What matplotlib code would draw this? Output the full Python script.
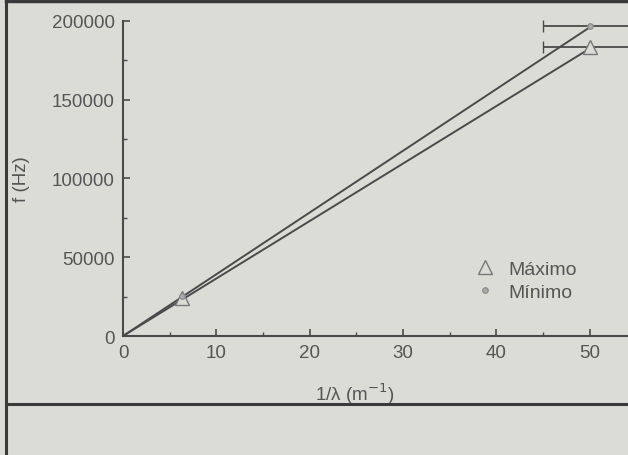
import matplotlib.pyplot as plt
import numpy as np
from matplotlib.lines import Line2D

plt.rcParams['font.family'] = ['Liberation Sans', 'DejaVu Sans']

# data
x_pts = [6.3, 50]
y_max = [24000, 183500]
y_min = [25500, 196800]
xerr_top = 5.0
x_line = np.array([0, 50])

ink = '#4a4a4a'
txt = '#555555'
bg = '#dcdcd7'

fig = plt.figure(figsize=(6.28, 4.56), dpi=100)
fig.patch.set_facecolor(bg)
ax = fig.add_axes([123 / 628, 1 - 337 / 456, 1 - 123 / 628, (337 - 22) / 456])
ax.set_facecolor(bg)

# fitted lines through origin
s_max = np.polyfit(x_pts, y_max, 1)[0]
s_min = np.polyfit(x_pts, y_min, 1)[0]
ax.plot(x_line, s_max * x_line, color=ink, lw=1.4)
ax.plot(x_line, s_min * x_line, color=ink, lw=1.4)

ax.errorbar([x_pts[1]], [y_max[1]], xerr=xerr_top, fmt='none', ecolor=ink,
            elinewidth=1.3, capsize=4, clip_on=False)
ax.errorbar([x_pts[1]], [y_min[1]], xerr=xerr_top, fmt='none', ecolor=ink,
            elinewidth=1.3, capsize=4, clip_on=False)

ax.plot(x_pts, y_max, '^', ms=10, mfc=bg, mec='#777777', mew=1.0,
        label='Máximo', clip_on=False)
ax.plot(x_pts, y_min, 'o', ms=4, mfc='#aaaaaa', mec='#888888', mew=0.8,
        label='Mínimo', clip_on=False)

ax.set_xlim(0, 54.1)
ax.set_ylim(0, 200000)
ax.set_xticks([0, 10, 20, 30, 40, 50])
ax.set_xticks([5, 15, 25, 35, 45], minor=True)
ax.set_yticks([0, 50000, 100000, 150000, 200000])
ax.set_yticks([25000, 75000, 125000, 175000], minor=True)
ax.tick_params(direction='in', colors=ink, labelsize=13.5, length=5, width=1.2,
               labelcolor=txt, pad=6)
ax.tick_params(which='minor', direction='in', length=3, width=1.0, colors=ink)

for side in ['top', 'right']:
    ax.spines[side].set_visible(False)
for side in ['left', 'bottom']:
    ax.spines[side].set_color(ink)
    ax.spines[side].set_linewidth(1.5)

ax.set_ylabel('f (Hz)', fontsize=13.5, color=txt)
ax.yaxis.set_label_coords(-0.185, 0.5)
ax.set_xlabel('1/λ (m$^{-1}$)', fontsize=13.5, color=txt)
ax.xaxis.set_label_coords((355 - 123) / (628 - 123), -0.14)

ax.legend(loc='upper left', bbox_to_anchor=(0.697, 0.24), frameon=False,
          fontsize=14, labelcolor=txt, handlelength=1.0, handletextpad=0.74,
          labelspacing=0.27, borderpad=0, borderaxespad=0)

# scanned page frame
fig.add_artist(Line2D([6 / 628, 6 / 628], [0, 1 - 3 / 456], color='#3a3a3a', lw=2.2))
fig.add_artist(Line2D([6 / 628, 1], [1 - 405 / 456, 1 - 405 / 456], color='#3a3a3a', lw=2.2))
fig.add_artist(Line2D([6 / 628, 1], [1 - 2 / 456, 1 - 2 / 456], color='#3a3a3a', lw=2.5))

fig.savefig('out.png', dpi=100, facecolor=bg)
